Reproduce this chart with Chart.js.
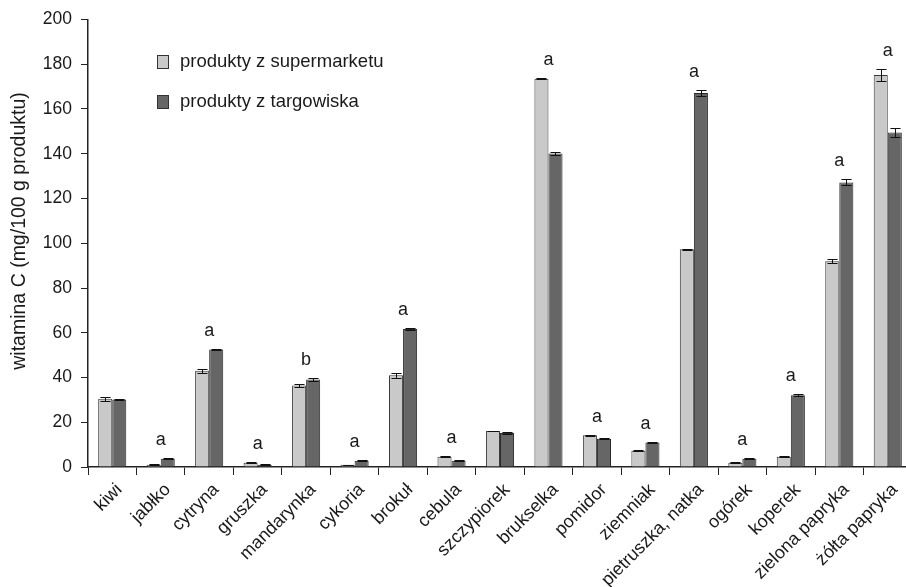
<!DOCTYPE html>
<html>
<head>
<meta charset="utf-8">
<style>
  html, body { margin: 0; padding: 0; background: #fff; overflow: hidden; }
  #wrap { width: 906px; height: 587px; overflow: hidden; }
  canvas { display: block; }
</style>
<script src="https://cdn.jsdelivr.net/npm/chart.js@4.4.1/dist/chart.umd.min.js"></script>
</head>
<body>
<div id="wrap"><canvas id="chart" width="912" height="587"></canvas></div>
<script>
// Vitamin C content (mg/100 g) in produce bought at a supermarket vs. a marketplace
const categories = ['kiwi', 'jabłko', 'cytryna', 'gruszka', 'mandarynka', 'cykoria', 'brokuł',
  'cebula', 'szczypiorek', 'brukselka', 'pomidor', 'ziemniak', 'pietruszka, natka', 'ogórek',
  'koperek', 'zielona papryka', 'żółta papryka'];

const supermarket = [30.5, 1.0, 43.0, 1.9, 36.4, 1.0, 41.0, 4.6, 16.1, 173.5, 14.2, 7.3, 97.3, 1.9, 4.6, 92.0, 175.2];
const marketplace = [30.2, 3.7, 52.5, 1.0, 39.1, 2.8, 61.7, 2.8, 15.2, 140.1, 12.6, 11.0, 167.2, 3.7, 32.1, 127.2, 149.5];

// standard deviations shown as error bars
const supermarketErr = [1.0, 0.2, 1.0, 0.2, 0.7, 0.1, 1.0, 0.2, 0.2, 0.3, 0.3, 0.3, 0.3, 0.2, 0.2, 1.0, 2.5];
const marketplaceErr = [0.3, 0.3, 0.3, 0.2, 0.5, 0.2, 0.3, 0.2, 0.3, 0.8, 0.3, 0.2, 1.3, 0.3, 0.5, 1.3, 1.8];

// significance letters above each pair
const significance = ['', 'a', 'a', 'a', 'b', 'a', 'a', 'a', '', 'a', 'a', 'a', 'a', 'a', 'a', 'a', 'a'];

const yTicks = [0, 20, 40, 60, 80, 100, 120, 140, 160, 180, 200];
const yTitle = 'witamina C (mg/100 g produktu)';

const FONT = "'Liberation Sans', Arial, sans-serif";
const INK = '#1a1a1a';

const errorBars = {
  id: 'errorBars',
  afterDatasetsDraw(chart) {
    const { ctx } = chart;
    const y = chart.scales.y;
    const errs = [supermarketErr, marketplaceErr];
    ctx.save();
    ctx.strokeStyle = '#111';
    ctx.lineWidth = 1;
    chart.data.datasets.forEach((ds, di) => {
      const meta = chart.getDatasetMeta(di);
      meta.data.forEach((bar, i) => {
        const v = ds.data[i], e = errs[di][i];
        const top = Math.round(y.getPixelForValue(v + e)) + 0.5;
        const bot = Math.round(y.getPixelForValue(v - e)) + 0.5;
        const half = bar.width * 0.36;
        const x = Math.round(bar.x) + 0.5;
        ctx.beginPath();
        ctx.moveTo(x, top); ctx.lineTo(x, bot);
        ctx.moveTo(x - half, top); ctx.lineTo(x + half, top);
        ctx.moveTo(x - half, bot); ctx.lineTo(x + half, bot);
        ctx.stroke();
      });
    });
    ctx.restore();
  }
};

const letters = {
  id: 'letters',
  afterDatasetsDraw(chart) {
    const { ctx } = chart;
    const x = chart.scales.x, y = chart.scales.y;
    ctx.save();
    ctx.fillStyle = INK;
    ctx.font = '18px ' + FONT;
    ctx.textAlign = 'center';
    ctx.textBaseline = 'middle';
    significance.forEach((s, i) => {
      if (!s) return;
      const top = Math.max(supermarket[i] + supermarketErr[i], marketplace[i] + marketplaceErr[i]);
      ctx.fillText(s, x.getPixelForValue(i), y.getPixelForValue(top) - 18);
    });
    ctx.restore();
  }
};

// slanted category labels under the x axis
const slantedLabels = {
  id: 'slantedLabels',
  afterDraw(chart) {
    const { ctx } = chart;
    const x = chart.scales.x;
    ctx.save();
    ctx.fillStyle = INK;
    ctx.font = '18px ' + FONT;
    ctx.textAlign = 'right';
    ctx.textBaseline = 'middle';
    categories.forEach((c, i) => {
      ctx.save();
      ctx.translate(x.getPixelForValue(i) + 7, x.top + 20);
      ctx.rotate(-Math.PI / 4);
      ctx.fillText(c, 0, 0);
      ctx.restore();
    });
    ctx.restore();
  }
};

const axisTitle = {
  id: 'axisTitle',
  afterDraw(chart) {
    const { ctx } = chart;
    ctx.save();
    ctx.fillStyle = INK;
    ctx.font = '19.5px ' + FONT;
    ctx.textAlign = 'center';
    ctx.textBaseline = 'middle';
    ctx.translate(20, 231);
    ctx.rotate(-Math.PI / 2);
    ctx.fillText(yTitle, 0, 0);
    ctx.restore();
  }
};

const insetLegend = {
  id: 'insetLegend',
  afterDraw(chart) {
    const { ctx } = chart;
    ctx.save();
    ctx.font = '18.5px ' + FONT;
    ctx.textBaseline = 'middle';
    chart.data.datasets.forEach((ds, i) => {
      const cy = 62 + i * 40;
      ctx.fillStyle = ds.backgroundColor;
      ctx.fillRect(157.5, cy - 6.5, 11, 13);
      ctx.strokeStyle = '#333';
      ctx.lineWidth = 1;
      ctx.strokeRect(157.5, cy - 6.5, 11, 13);
      ctx.fillStyle = INK;
      ctx.fillText(ds.label, 180, cy);
    });
    ctx.restore();
  }
};

new Chart(document.getElementById('chart'), {
  type: 'bar',
  data: {
    labels: categories,
    datasets: [
      {
        label: 'produkty z supermarketu',
        data: supermarket,
        backgroundColor: '#c9c9c9',
        borderColor: '#3c3c3c',
        borderWidth: 1
      },
      {
        label: 'produkty z targowiska',
        data: marketplace,
        backgroundColor: '#666666',
        borderColor: '#2a2a2a',
        borderWidth: 1
      }
    ]
  },
  options: {
    responsive: false,
    animation: false,
    devicePixelRatio: 1,
    layout: { padding: { top: 17, right: 0, bottom: 0, left: 0 } },
    datasets: { bar: { categoryPercentage: 0.58, barPercentage: 1.0 } },
    plugins: {
      legend: { display: false },
      tooltip: { enabled: false }
    },
    scales: {
      x: {
        offset: true,
        grid: {
          display: true,
          offset: true,
          drawOnChartArea: false,
          drawTicks: true,
          tickLength: 8,
          color: '#222',
          lineWidth: 1
        },
        border: { display: true, color: '#222', width: 1.5 },
        ticks: { display: false, autoSkip: false },
        afterFit(scale) { scale.height = 120; }
      },
      y: {
        min: 0,
        max: 200,
        afterBuildTicks(scale) { scale.ticks = yTicks.map(v => ({ value: v })); },
        grid: {
          display: true,
          drawOnChartArea: false,
          drawTicks: true,
          tickLength: 7,
          color: '#222',
          lineWidth: 1
        },
        border: { display: true, color: '#222', width: 1.5 },
        ticks: {
          padding: 9,
          color: INK,
          font: { family: FONT, size: 17.5 }
        },
        afterFit(scale) { scale.width = 88; }
      }
    }
  },
  plugins: [errorBars, letters, slantedLabels, axisTitle, insetLegend]
});
</script>
</body>
</html>
